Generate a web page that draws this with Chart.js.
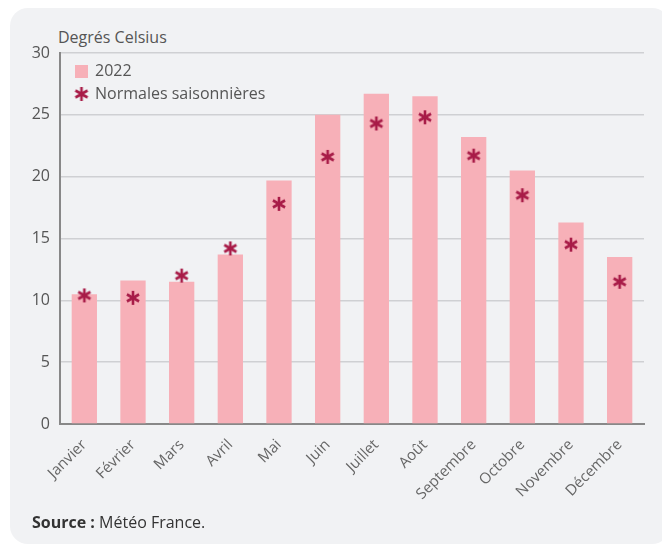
<!DOCTYPE html>
<html>
<head>
<meta charset="utf-8">
<script src="https://cdn.jsdelivr.net/npm/chart.js@4"></script>
<style>
  body { margin: 0; background: #fff; font-family: "Open Sans", sans-serif; }
  #panel { position: absolute; left: 10px; top: 8px; width: 660px; height: 536px; background: #f1f2f4; border-radius: 18px; }
  #wrap { position: absolute; left: 0; top: 0; width: 662px; height: 546px; }
  #unite { position: absolute; left: 58px; top: 26px; font-size: 16px; color: #555; }
  #source { position: absolute; left: 32px; top: 511px; font-size: 16px; color: #333; }
</style>
</head>
<body>
<div id="panel"></div>
<div id="unite">Degrés Celsius</div>
<div id="wrap"><canvas id="graphique"></canvas></div>
<div id="source"><b>Source :</b> Météo France.</div>
<script>
const mois = ['Janvier', 'Février', 'Mars', 'Avril', 'Mai', 'Juin', 'Juillet', 'Août', 'Septembre', 'Octobre', 'Novembre', 'Décembre'];
const temp2022 = [10.5, 11.6, 11.5, 13.7, 19.7, 25.0, 26.7, 26.5, 23.2, 20.5, 16.3, 13.5];
const normales = [10.4, 10.2, 12.0, 14.2, 17.8, 21.6, 24.3, 24.8, 21.7, 18.5, 14.5, 11.5];

const rose = '#f7b0b8';
const bordeaux = '#a81c48';
const police = { family: 'Open Sans', size: 16 };

// asterisque a 6 branches pour les normales
function faireEtoile(taille) {
    const c = document.createElement('canvas');
    c.width = taille; c.height = taille;
    const ctx = c.getContext('2d');
    ctx.strokeStyle = bordeaux;
    ctx.lineWidth = 2.6;
    const r = taille / 2 - 1;
    ctx.translate(taille / 2, taille / 2);
    for (let i = 0; i < 3; i++) {
        ctx.beginPath();
        ctx.moveTo(0, -r);
        ctx.lineTo(0, r);
        ctx.stroke();
        ctx.rotate(Math.PI / 3);
    }
    return c;
}
const etoile = faireEtoile(16);

// legende dessinee dans la zone du graphique, en haut a gauche
const legendeInterne = {
    id: 'legendeInterne',
    afterDraw(chart) {
        const c = chart.ctx;
        const x = chart.chartArea.left + 15;
        const y = chart.chartArea.top + 18;
        c.save();
        c.font = '16px "Open Sans"';
        c.textBaseline = 'middle';
        chart.data.datasets.forEach((ds, i) => {
            const yy = y + i * 23;
            if (i === 0) {
                c.fillStyle = rose;
                c.fillRect(x, yy - 6, 13, 13);
            } else {
                c.drawImage(etoile, x - 1.5, yy - 8);
            }
            c.fillStyle = '#555';
            c.fillText(ds.label, x + 20, yy);
        });
        c.restore();
    }
};

const ctx = document.getElementById('graphique').getContext('2d');
new Chart(ctx, {
    type: 'bar',
    data: {
        labels: mois,
        datasets: [{
            label: '2022',
            data: temp2022,
            backgroundColor: rose,
            categoryPercentage: 1,
            barPercentage: 0.52,
            order: 2
        }, {
            type: 'line',
            label: 'Normales saisonnières',
            data: normales,
            showLine: false,
            pointStyle: etoile,
            borderColor: bordeaux,
            backgroundColor: bordeaux,
            order: 1
        }]
    },
    options: {
        responsive: true,
        maintainAspectRatio: false,
        animation: false,
        layout: { padding: { left: 30, right: 18, top: 53, bottom: 32 } },
        plugins: {
            tooltip: { enabled: false },
            legend: { display: false }
        },
        scales: {
            x: {
                grid: { display: false, drawTicks: false },
                border: { color: '#888', width: 2 },
                ticks: {
                    color: '#666',
                    font: { family: 'Open Sans', size: 15 },
                    minRotation: 45,
                    maxRotation: 45,
                    padding: 12
                },
                afterFit: s => { s.paddingLeft = 0; s.paddingRight = 0; s.height = 90; }
            },
            y: {
                min: 0,
                max: 30,
                grid: { color: '#cfd0d3', lineWidth: 1.5, drawTicks: false },
                border: { color: '#888', width: 2 },
                ticks: {
                    stepSize: 5,
                    color: '#555',
                    font: police,
                    padding: 10
                },
                afterFit: s => { s.width = 30; s.paddingTop = 0; s.paddingBottom = 0; }
            }
        }
    },
    plugins: [legendeInterne]
});
</script>
</body>
</html>
